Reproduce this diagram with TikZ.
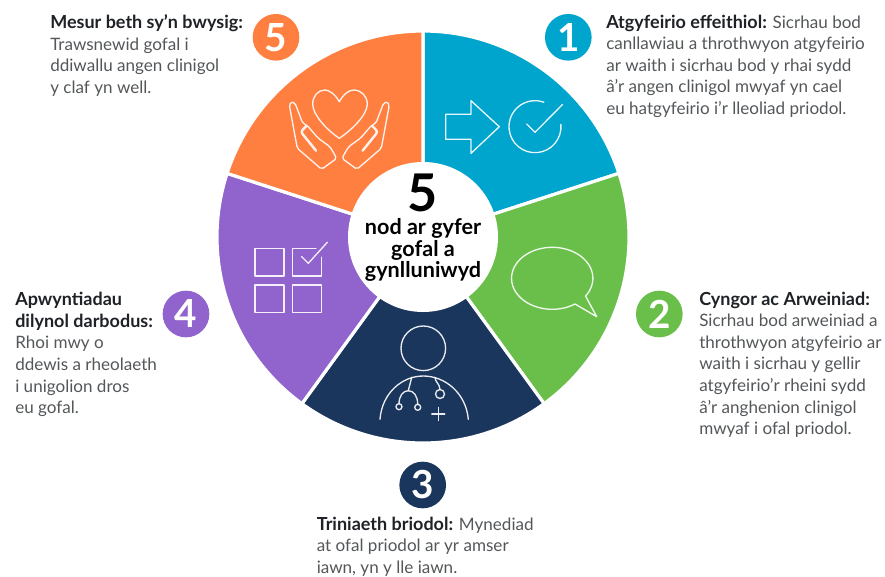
\documentclass[tikz,border=0pt]{standalone}
\usepackage{fontspec}
\setmainfont{Lato}
\usetikzlibrary{positioning}
\definecolor{wheelblue}{HTML}{00A5CE}
\definecolor{wheelgreen}{HTML}{6ABF4B}
\definecolor{wheelnavy}{HTML}{1B365D}
\definecolor{wheelpurple}{HTML}{9063CD}
\definecolor{wheelorange}{HTML}{FF7F41}
\definecolor{bodygrey}{HTML}{54575A}
\definecolor{headdark}{HTML}{1E2126}
\tikzset{
    sector/.style={draw=white, line width=2.4pt},
    icon/.style={draw=white, line width=1pt, line join=round, line cap=round, opacity=.9},
    badge/.style={circle, minimum size=35pt, inner sep=0pt, text=white, font=\fontsize{29}{29}\selectfont\bfseries},
    blurb/.style={anchor=north west, inner sep=0pt, align=left, text=bodygrey, font=\fontsize{12.8}{16.2}\selectfont},
    hub/.style={circle, fill=white, minimum size=112.5pt, inner sep=0pt},
}
\newcommand{\lead}[1]{\textcolor{headdark}{\fontsize{13.5}{16.2}\selectfont\bfseries #1}}
\begin{document}
\begin{tikzpicture}[x=.75pt, y=-.75pt]
    \useasboundingbox (0, 0) rectangle (885, 576);
    %draw sectors of the wheel
    \foreach \col/\from/\to in {wheelblue/-90/-18, wheelgreen/-18/54, wheelnavy/54/126, wheelpurple/126/198, wheelorange/198/270}
        \draw[sector, fill=\col] (423, 237) -- +(\from:206) arc[start angle=\from, end angle=\to, radius=206] -- cycle;
    %draw middle of the wheel
    \node[hub] (hub) at (423, 237) {};
    \node[font=\fontsize{39}{39}\selectfont\bfseries, text=black, inner sep=0pt] (hubnum) at (423, 193) {5};
    \node[align=center, text=black, inner sep=0pt, font=\fontsize{16.2}{16.1}\selectfont\bfseries] (hublabel) at (423, 250) {nod ar gyfer\\gofal a\\gynlluniwyd};
    %draw numbered badges
    \node[badge, fill=wheelblue] (badgeone) at (568.3, 37.3) {1};
    \node[badge, fill=wheelgreen] (badgetwo) at (659.3, 314) {2};
    \node[badge, fill=wheelnavy] (badgethree) at (422.7, 485) {3};
    \node[badge, fill=wheelpurple] (badgefour) at (186, 314) {4};
    \node[badge, fill=wheelorange] (badgefive) at (276, 37.3) {5};
    %arrow and tick icon
    \draw[icon] (445.7, 114.3) -- (471, 114.3) -- (471, 100.7) -- (499.3, 126.7) -- (471, 153.3) -- (471, 139.3) -- (445.7, 139.3) -- cycle;
    \draw[icon] (560.9, 124.4) arc[start angle=-5, end angle=290, radius=26];
    \draw[icon] (526.7, 124) -- (535, 132.3) -- (562.7, 104.3);
    %speech bubble icon
    \draw[icon] (575, 304) arc[start angle=56, end angle=395, x radius=40.7, y radius=31] -- (596.7, 316.7) -- cycle;
    %doctor icon
    \draw[icon] (423.3, 348.3) circle[radius=22.3];
    \draw[icon] (380, 419.3) .. controls (382, 393) and (402, 376) .. (423.3, 376) .. controls (445, 376) and (466, 393) .. (468.3, 419.3);
    \draw[icon] (411.7, 377.3) -- (408.3, 390.7);
    \draw[icon] (399, 403.7) .. controls (399, 396) and (403, 390.7) .. (408.3, 390.7) .. controls (413.7, 390.7) and (417.7, 396) .. (417.7, 404.3);
    \draw[icon] (399, 406.7) circle[radius=3];
    \draw[icon] (417.7, 407.3) circle[radius=3];
    \draw[icon] (435, 377.3) .. controls (435, 382) and (440, 384) .. (440, 389.5);
    \draw[icon] (440, 394) circle[radius=4.5];
    \draw[icon] (431.8, 414) -- (444.8, 414) (438.3, 407.5) -- (438.3, 420.5);
    %checklist icon
    \draw[icon] (255, 248.3) rectangle (284, 276);
    \draw[icon] (255, 285) rectangle (284, 312.7);
    \draw[icon] (292.7, 285) rectangle (321.7, 312.7);
    \draw[icon] (316, 248.3) -- (292.7, 248.3) -- (292.7, 276) -- (321.7, 276) -- (321.7, 257.3);
    \draw[icon] (301.7, 256.7) -- (308.3, 263.3) -- (327.3, 242.3);
    %heart and hands icon
    \draw[icon] (339.3, 101.7) .. controls (335, 94) and (329, 90) .. (325, 90) .. controls (318, 90) and (312.7, 96) .. (312.7, 104) .. controls (312.7, 115) and (327, 130) .. (339.3, 138.3)
        .. controls (351.6, 130) and (367.3, 115) .. (367.3, 104) .. controls (367.3, 96) and (361, 90) .. (353.6, 90) .. controls (349, 90) and (343.6, 94) .. (339.3, 101.7);
    \foreach \side in {1, -1} {
        \begin{scope}[shift={(339.3, 0)}, xscale=\side]
            \draw[icon, rounded corners=1.5pt] (-50, 105) -- (-42, 148.3) -- (-17.6, 169.3) -- (-2.6, 158.3) -- (-9.3, 146.7) -- (-21, 138.3) -- (-32.6, 125) -- (-36.6, 123.3) -- (-44.3, 103) -- (-48, 101.5) -- cycle;
            \draw[icon, line width=1.8pt, rounded corners=2pt] (-23.3, 150.7) -- (-38.6, 131.7) -- (-33, 126);
        \end{scope}
    }
    %text beside each badge
    \node[blurb] (textone) at (606, 14.5) {\lead{Atgyfeirio effeithiol:} Sicrhau bod\\canllawiau a throthwyon atgyfeirio\\ar waith i sicrhau bod y rhai sydd\\â'r angen clinigol mwyaf yn cael\\eu hatgyfeirio i'r lleoliad priodol.};
    \node[blurb] (texttwo) at (699, 291.5) {\lead{Cyngor ac Arweiniad:}\\Sicrhau bod arweiniad a\\throthwyon atgyfeirio ar\\waith i sicrhau y gellir\\atgyfeirio'r rheini sydd\\â'r anghenion clinigol\\mwyaf i ofal priodol.};
    \node[blurb] (textthree) at (316.5, 516.5) {\lead{Triniaeth briodol:} Mynediad\\at ofal priodol ar yr amser\\iawn, yn y lle iawn.};
    \node[blurb] (textfour) at (15, 292) {\lead{Apwyntiadau}\\\lead{dilynol darbodus:}\\Rhoi mwy o\\ddewis a rheolaeth\\i unigolion dros\\eu gofal.};
    \node[blurb] (textfive) at (50, 14.5) {\lead{Mesur beth sy'n bwysig:}\\Trawsnewid gofal i\\ddiwallu angen clinigol\\y claf yn well.};
\end{tikzpicture}
\end{document}
